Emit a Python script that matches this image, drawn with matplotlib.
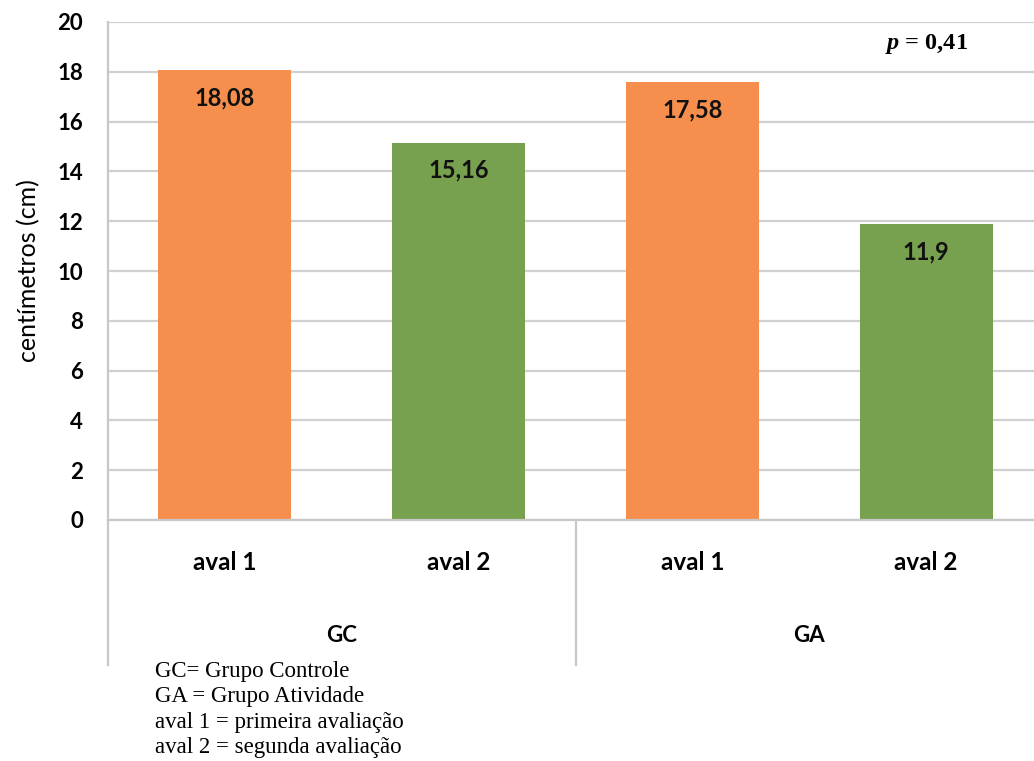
import matplotlib.pyplot as plt
from matplotlib.lines import Line2D

plt.rcParams['font.family'] = ['Lato', 'DejaVu Sans']
plt.rcParams['mathtext.fontset'] = 'custom'
plt.rcParams['mathtext.it'] = 'Liberation Serif:italic:bold'
plt.rcParams['mathtext.rm'] = 'Liberation Serif:bold'

groups = ["GC", "GA"]
evals = ["aval 1", "aval 2", "aval 1", "aval 2"]
values = [18.08, 15.16, 17.58, 11.9]
labels = ["18,08", "15,16", "17,58", "11,9"]
bar_colors = ["#F68F4E", "#77A14E", "#F68F4E", "#77A14E"]
notes = ["GC= Grupo Controle", "GA = Grupo Atividade",
         "aval 1 = primeira avaliação", "aval 2 = segunda avaliação"]

W, H = 1034, 761
fig = plt.figure(figsize=(W / 100, H / 100), dpi=100)
ax = fig.add_axes([108 / W, 1 - 520 / H, 935 / W, 498 / H])

x = list(range(len(values)))
ax.bar(x, values, width=0.57, color=bar_colors, zorder=2)
ax.set_xlim(-0.5, 3.5)
ax.set_ylim(0, 20)
ax.set_yticks(range(0, 21, 2))
ax.yaxis.grid(True, color="#D0D0D0", linewidth=1.6, zorder=0)
ax.tick_params(axis="y", length=0, pad=18, labelsize=16)
for t in ax.get_yticklabels():
    t.set_fontweight("bold")
ax.set_xticks([])
for s in ["top", "right", "bottom"]:
    ax.spines[s].set_visible(False)
ax.spines["left"].set_color("#C8C8C8")
ax.spines["left"].set_linewidth(1.6)
ax.set_ylabel("centímetros (cm)", fontsize=18, labelpad=12)

# value labels just inside the top of each bar
for xi, v, lab in zip(x, values, labels):
    ax.annotate(lab, (xi, v), xytext=(0, -20), textcoords="offset points",
                ha="center", va="center", fontsize=17, fontweight="bold",
                color="#111111", zorder=3)

# two-level category axis below the plot
trans = ax.get_xaxis_transform()
bottom = -145 / 498
for xd in [-0.5, 1.5, 3.5]:
    ax.add_line(Line2D([xd, xd], [0, bottom], transform=trans, color="#C8C8C8",
                       linewidth=1.6, clip_on=False))
ax.add_line(Line2D([-0.5, 3.5], [0, 0], transform=trans, color="#C8C8C8",
                   linewidth=1.6, clip_on=False, zorder=3))
for xi, ev in zip(x, evals):
    ax.text(xi, -42 / 498, ev, transform=trans, ha="center", va="center",
            fontsize=17.5, fontweight="bold")
for i, g in enumerate(groups):
    ax.text(2 * i + 0.5, -115 / 498, g, transform=trans, ha="center",
            va="center", fontsize=16, fontweight="bold")

ax.text(3.0, 19.1, r"$p$ = 0,41", ha="center", va="center", fontsize=17.5,
        family="Liberation Serif", fontweight="bold")

for i, line in enumerate(notes):
    fig.text(155 / W, 1 - (677 + 25.3 * i) / H, line, ha="left",
             va="baseline", fontsize=16.5, family="Liberation Serif")

fig.savefig("out.png", dpi=100)
